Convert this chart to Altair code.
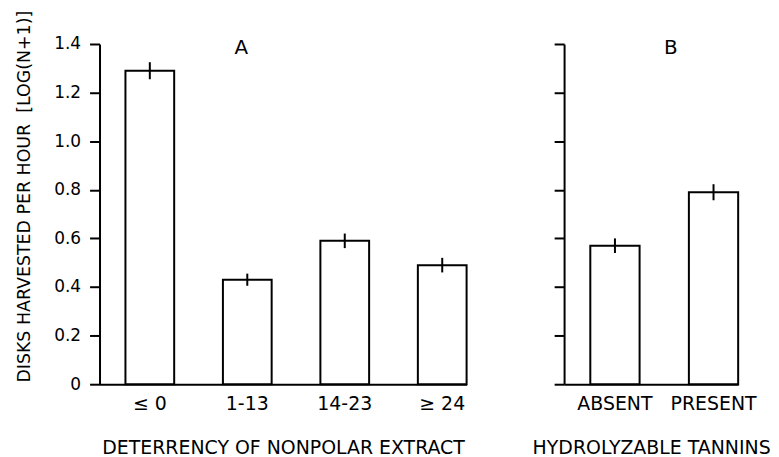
import altair as alt
import pandas as pd

cat_a = ["≤ 0", "1-13", "14-23", "≥ 24"]
val_a = [1.29, 0.43, 0.59, 0.49]
err_a = [0.035, 0.025, 0.03, 0.03]

cat_b = ["ABSENT", "PRESENT"]
val_b = [0.57, 0.79]
err_b = [0.03, 0.033]

y_ticks = [0, 0.2, 0.4, 0.6, 0.8, 1.0, 1.2, 1.4]

FONT = "DejaVu Sans"


def make_df(cats, vals, errs):
    return pd.DataFrame({
        "cat": cats,
        "val": vals,
        "lo": [v - e for v, e in zip(vals, errs)],
        "hi": [v + e for v, e in zip(vals, errs)],
    })


def panel(df, cats, xtitle, letter, letter_cat, letter_dx, width, first):
    ysc = alt.Scale(domain=[0, 1.4], nice=False, zero=True)
    xsc = alt.Scale(domain=cats, paddingInner=0.5, paddingOuter=0.133, align=1)
    if first:
        yaxis = alt.Axis(values=y_ticks, tickSize=10, labelPadding=9,
                         labelExpr="datum.value == 0 ? '0' : format(datum.value, '.1f')",
                         title="DISKS HARVESTED PER HOUR\u00a0\u00a0[LOG(N+1)]",
                         titlePadding=20, titleY=153, titleFontSize=17.5)
    else:
        yaxis = alt.Axis(values=y_ticks, tickSize=10, labels=False, title=None)
    xaxis = alt.Axis(title=xtitle, labelAngle=0, ticks=False, labelPadding=10,
                     titlePadding=26, titleFontSize=19, labelFontSize=19)
    bars = alt.Chart(df).mark_bar(fill="white", stroke="black", strokeWidth=2).encode(
        x=alt.X("cat:N", scale=xsc, sort=cats, axis=xaxis),
        y=alt.Y("val:Q", scale=ysc, axis=yaxis),
    )
    errs = alt.Chart(df).mark_rule(color="black", strokeWidth=2).encode(
        x=alt.X("cat:N", sort=cats),
        y="lo:Q",
        y2="hi:Q",
    )
    label = alt.Chart(pd.DataFrame({"t": [letter]})).mark_text(
        font=FONT, fontSize=20, color="black", baseline="alphabetic", align="center",
        dx=letter_dx,
    ).encode(
        x=alt.X(datum=letter_cat),
        y=alt.Y(datum=1.36),
        text="t:N",
    )
    return alt.layer(bars, errs, label).properties(width=width, height=342)


pa = panel(make_df(cat_a, val_a, err_a), cat_a, "DETERRENCY OF NONPOLAR EXTRACT",
           "A", "1-13", -6, 369, True)
pb = panel(make_df(cat_b, val_b, err_b), cat_b, "HYDROLYZABLE TANNINS",
           "B", "PRESENT", -43, 175, False)

chart = alt.hconcat(pa, pb, spacing=98, bounds="flush").properties(
    padding={"left": 7, "top": 0, "right": 0, "bottom": 0}
).configure_view(stroke=None).configure_axis(
    grid=False, domainColor="black", domainWidth=2, tickColor="black", tickWidth=2,
    labelColor="black", titleColor="black", labelFont=FONT, titleFont=FONT,
    labelFontSize=17, titleFontWeight="normal",
)

chart.save("out.html", embed_options={"renderer": "svg", "actions": False})
